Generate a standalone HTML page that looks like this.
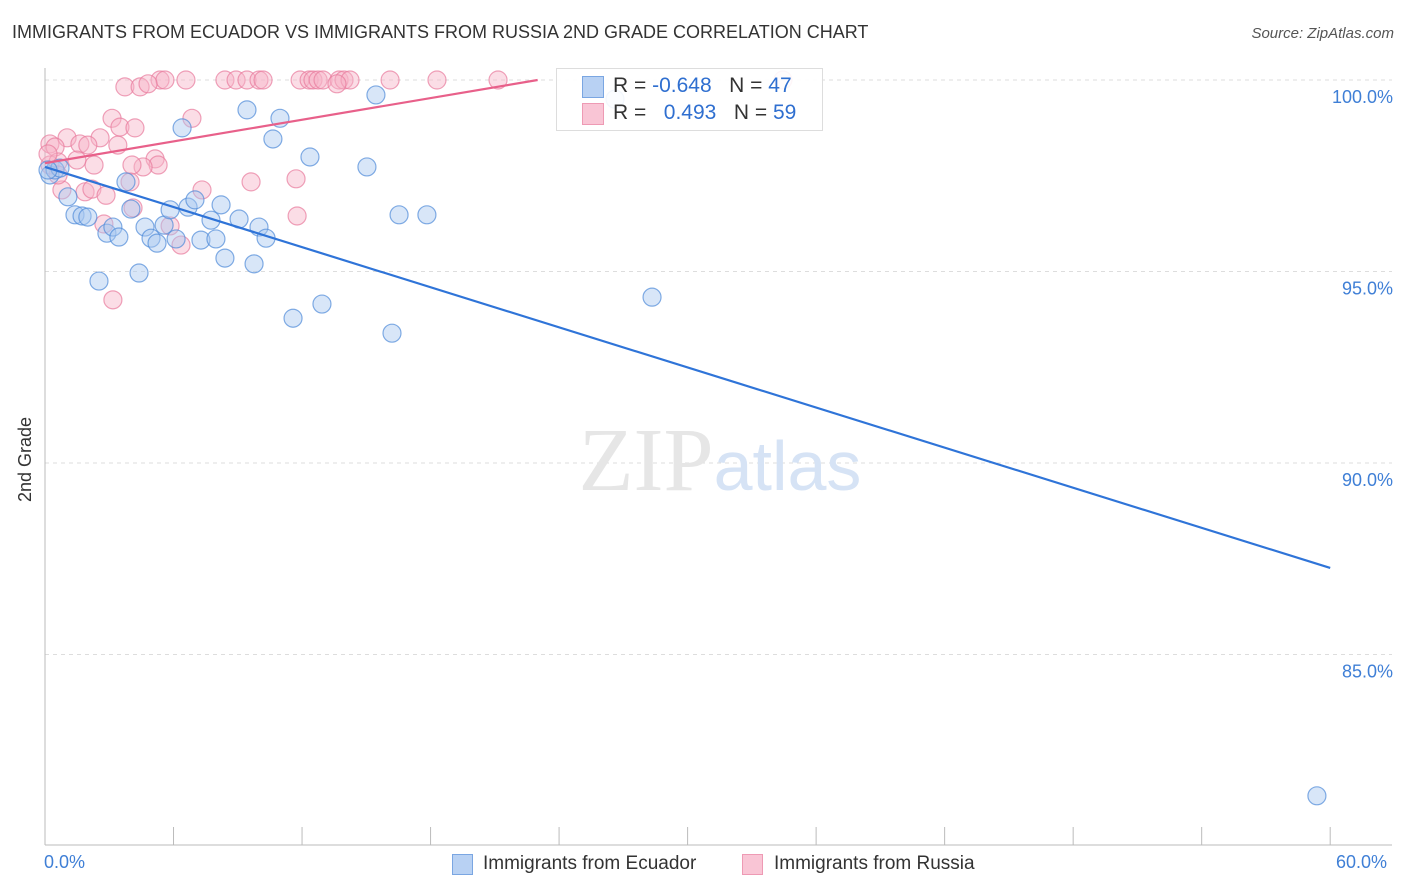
<!DOCTYPE html>
<html><head><meta charset="utf-8"><style>
body{margin:0;background:#fff;font-family:"Liberation Sans",sans-serif;}
#wrap{position:relative;width:1406px;height:892px;}
.t{position:absolute;white-space:nowrap;}
</style></head><body>
<div id="wrap">
<div class="t" style="left:12px;top:22px;font-size:18px;color:#333">IMMIGRANTS FROM ECUADOR VS IMMIGRANTS FROM RUSSIA 2ND GRADE CORRELATION CHART</div>
<div class="t" style="right:12px;top:25px;font-size:15px;color:#555;font-style:italic">Source: ZipAtlas.com</div>
<svg id="svg" width="1406" height="892" style="position:absolute;left:0;top:0"></svg>
</div>
<script>
const xTickLabels=["0.0%","60.0%"];
const yTicks=[100,95,90,85];
const ecuX=[0.23,0.47,0.7,1.07,1.4,1.73,2.0,2.52,2.89,3.17,3.45,3.78,4.01,4.39,4.67,4.95,5.23,5.56,5.84,6.12,6.4,6.68,7.0,7.28,7.75,7.98,8.22,8.4,9.06,9.43,9.76,9.99,10.32,10.64,10.97,11.58,12.37,12.93,15.03,15.45,16.2,16.53,17.83,28.34,59.38,0.14,26.61];
const ecuY=[97.52,97.65,97.70,96.95,96.48,96.45,96.42,94.75,96.0,96.16,95.9,97.34,96.63,94.96,96.16,95.87,95.74,96.21,96.61,95.85,98.75,96.68,96.87,95.82,96.34,95.85,96.74,95.35,96.37,99.22,95.2,96.16,95.87,98.46,99.0,93.78,97.99,94.15,97.73,99.61,93.39,96.48,96.48,94.33,81.31,97.65,99.50];
const rusX=[5.37,5.6,6.58,8.4,8.92,9.43,9.99,10.18,11.91,12.33,12.51,12.75,12.98,13.73,13.96,14.24,16.11,18.3,21.15,34.45,3.73,4.44,4.81,13.63,3.13,3.5,4.2,6.86,2.57,1.03,1.63,0.23,0.47,3.4,2.0,2.29,1.49,5.14,5.28,4.58,0.23,0.61,0.79,1.87,2.19,2.85,3.97,7.33,9.62,11.72,11.77,2.75,4.11,5.84,6.35,3.17,4.06,0.14,0.61];
const rusY=[100,100,100,100,100,100,100,100,100,100,100,100,100,100,100,100,100,100,100,100,99.82,99.82,99.9,99.9,99.0,98.77,98.75,99.0,98.49,98.49,98.33,98.33,98.25,98.3,98.3,97.78,97.91,97.94,97.78,97.73,97.78,97.86,97.13,97.08,97.15,96.99,97.34,97.13,97.34,97.42,96.45,96.24,96.66,96.19,95.69,94.26,97.78,98.07,97.52];
const ecuTrend=[[0,97.73],[60,87.26]];
const rusTrend=[[0,97.83],[23.0,100]];
const svg=document.getElementById('svg');const NS='http://www.w3.org/2000/svg';
const X=v=>45+v*21.42, Y=v=>80+(100-v)*38.3;
function mk(t,a){const e=document.createElementNS(NS,t);for(const k in a)e.setAttribute(k,a[k]);svg.appendChild(e);return e;}
yTicks.forEach((v,i)=>{const g=mk('line',{x1:45,x2:1392,y1:Y(v),y2:Y(v),stroke:'#ddd','stroke-dasharray':'4,4'});


const t=mk('text',{x:1393,y:Y(v)+23,'text-anchor':'end','font-size':18,fill:'#3f7fd6','font-family':'Liberation Sans'});t.textContent=v.toFixed(1)+'%';

});
const ax=mk('line',{x1:45,x2:45,y1:68,y2:845,stroke:'#bbb'});


const bx=mk('line',{x1:45,x2:1392,y1:845,y2:845,stroke:'#bbb'});


for(let i=0;i<=10;i++){const l=mk('line',{x1:X(i*6),x2:X(i*6),y1:827,y2:845,stroke:'#bbb'});

}
const wm=mk('text',{x:720,y:490,'text-anchor':'middle','font-size':90,fill:'#e6e6e6','font-family':'Liberation Serif'});wm.innerHTML='ZIP<tspan fill="#d6e3f5" font-family="Liberation Sans" font-size="70">atlas</tspan>';


function pts(xs,ys,f,s,name){xs.forEach((x,i)=>{const c=mk('circle',{cx:X(x),cy:Y(ys[i]),r:9,fill:f,'fill-opacity':0.45,stroke:s,'stroke-opacity':0.7,'stroke-width':1.2});

});}
pts(rusX,rusY,'#f7b3c8','#e87a9c','russia-point');
pts(ecuX,ecuY,'#a9c8f0','#4f8ad8','ecuador-point');
const l1=mk('line',{x1:X(ecuTrend[0][0]),y1:Y(ecuTrend[0][1]),x2:X(ecuTrend[1][0]),y2:Y(ecuTrend[1][1]),stroke:'#2f74d8','stroke-width':2.2});


const l2=mk('line',{x1:X(rusTrend[0][0]),y1:Y(rusTrend[0][1]),x2:X(rusTrend[1][0]),y2:Y(rusTrend[1][1]),stroke:'#e8608a','stroke-width':2.2});


</script>
<div class="t" style="left:15px;top:502px;transform:rotate(-90deg);transform-origin:left top;font-size:18px;color:#333">2nd Grade</div>
<div class="t" style="left:44px;top:852px;font-size:18px;color:#3f7fd6">0.0%</div>
<div class="t" style="left:1336px;top:852px;font-size:18px;color:#3f7fd6">60.0%</div>
<div style="position:absolute;left:556px;top:68px;width:265px;height:61px;border:1px solid #ddd;background:rgba(255,255,255,.9);font-size:21px">
<div style="position:absolute;left:25px;top:7px;width:20px;height:20px;background:#b8d1f3;border:1px solid #7aa6e2"></div>
<div class="t" style="left:56px;top:5px;color:#333">R = <span style="color:#2f6fd0">-0.648</span>&nbsp;&nbsp;&nbsp;N = <span style="color:#2f6fd0">47</span></div>
<div style="position:absolute;left:25px;top:34px;width:20px;height:20px;background:#f9c5d5;border:1px solid #ee9ab4"></div>
<div class="t" style="left:56px;top:32px;color:#333">R = &nbsp;&nbsp;<span style="color:#2f6fd0">0.493</span>&nbsp;&nbsp;&nbsp;N = <span style="color:#2f6fd0">59</span></div>
</div>
<div style="position:absolute;left:452px;top:854px;width:19px;height:19px;background:#b8d1f3;border:1px solid #7aa6e2"></div>
<div class="t" style="left:483px;top:853px;font-size:19px;color:#333">Immigrants from Ecuador</div>
<div style="position:absolute;left:742px;top:854px;width:19px;height:19px;background:#f9c5d5;border:1px solid #ee9ab4"></div>
<div class="t" style="left:774px;top:853px;font-size:19px;color:#333">Immigrants from Russia</div>
</body></html>
